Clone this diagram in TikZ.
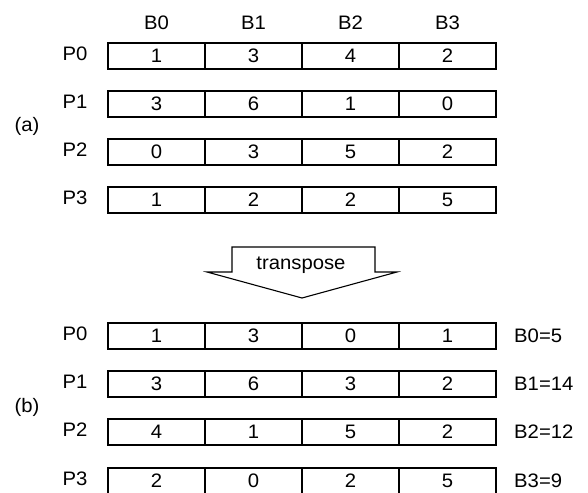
\documentclass[tikz,border=0pt]{standalone}
\usepackage{fontspec}
\setmainfont[FakeStretch=1.04]{Liberation Sans}
\begin{document}
\begin{tikzpicture}[x=1pt,y=-1pt,
  txt/.style={font=\fontsize{19.5}{21}\selectfont, inner sep=0pt},
  cell/.style={txt, draw, line width=1.1pt, minimum width=97pt, minimum height=26pt},
  shape line/.style={draw, line width=1.1pt, line join=miter}]
\clip (0,0) rectangle (588,492);
\fill[white] (0,0) rectangle (588,492);
% headers
\foreach \c/\x in {0/156.5,1/253.5,2/350.5,3/447.5}
  \node[txt] (h\c) at (\x,23) {B\c};
% (a) rows
\foreach \r/\y/\a/\b/\c/\d in {0/56/1/3/4/2,1/104/3/6/1/0,2/152/0/3/5/2,3/200/1/2/2/5}{
  \node[txt] (pa\r) at (75,\y-2.5) {P\r};
  \node[cell] (a\r0) at (156.5,\y) {\a};
  \node[cell] (a\r1) at (253.5,\y) {\b};
  \node[cell] (a\r2) at (350.5,\y) {\c};
  \node[cell] (a\r3) at (447.5,\y) {\d};
}
\node[txt] (la) at (27,126) {(a)};
% transpose arrow
\path[shape line] (232,247) -- (375,247) -- (375,272) -- (397,272) -- (302,298)
  -- (207,272) -- (232,272) -- cycle;
\node[txt, anchor=base] (tr) at (301,269) {transpose};
% (b) rows
\foreach \r/\y/\a/\b/\c/\d/\s in {0/336/1/3/0/1/5,1/384/3/6/3/2/14,2/432/4/1/5/2/12,3/481/2/0/2/5/9}{
  \node[txt] (pb\r) at (75,\y-2.5) {P\r};
  \node[cell] (b\r0) at (156.5,\y) {\a};
  \node[cell] (b\r1) at (253.5,\y) {\b};
  \node[cell] (b\r2) at (350.5,\y) {\c};
  \node[cell] (b\r3) at (447.5,\y) {\d};
  \node[txt, anchor=west] (s\r) at (514,\y) {B\r=\s};
}
\node[txt] (lb) at (27,407) {(b)};
\end{tikzpicture}
\end{document}
